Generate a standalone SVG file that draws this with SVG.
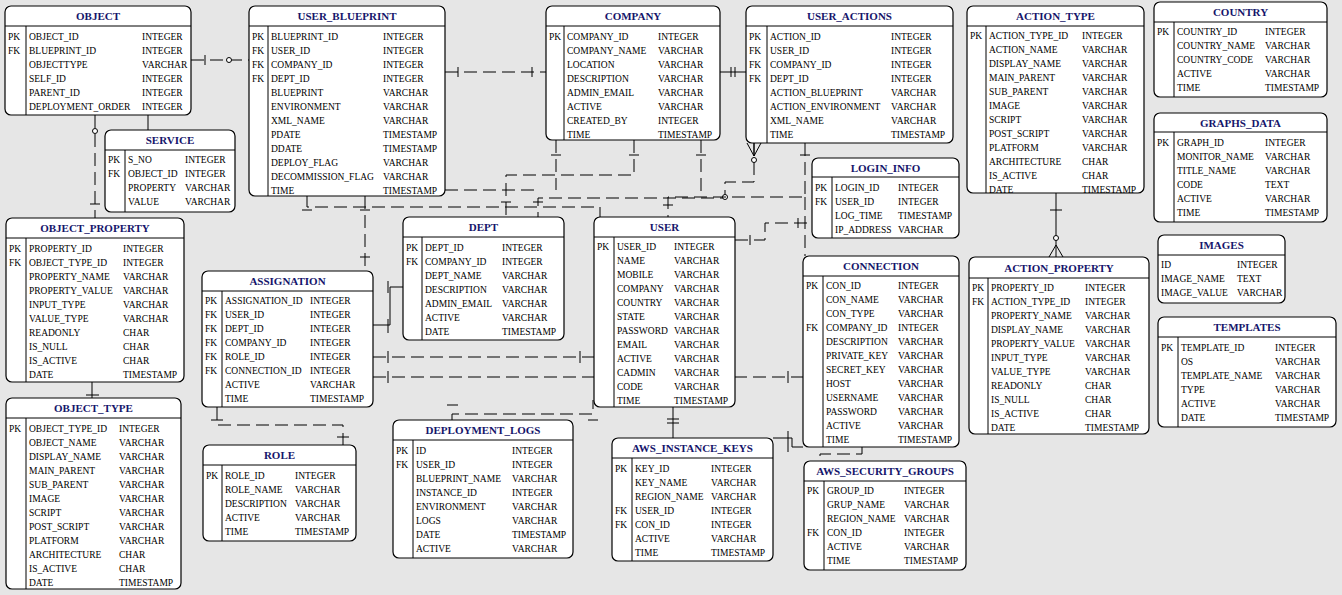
<svg xmlns="http://www.w3.org/2000/svg" width="1342" height="595" viewBox="0 0 1342 595">
<style>
.tb{fill:#fff;stroke:#000;stroke-width:1.2}
.ln{fill:none;stroke:#000;stroke-width:1}
.t{font:bold 11px "Liberation Serif",serif;fill:#15156b;text-anchor:middle}
.r{font:9.5px "Liberation Serif",serif;fill:#000}
.c{fill:none;stroke:#000;stroke-width:1}
.d{stroke-dasharray:13 6}
.o{fill:#fff;stroke:#000;stroke-width:1}
</style>
<rect width="1342" height="595" fill="#e6e6e6"/>
<g id="connectors">
<path class="c d" d="M191,60H249"/><path class="c" d="M205,55V65"/><circle class="o" cx="229" cy="60" r="2.5"/>
<path class="c" d="M148,115V130"/>
<path class="c d" d="M95,115V218"/><path class="c" d="M90,204H100"/><circle class="o" cx="95" cy="131" r="2.5"/>
<path class="c" d="M92,382V398M86,395H99"/>
<path class="c d" d="M445,72H546"/><path class="c" d="M458,67V77M532,67V77"/>
<path class="c" d="M720,72H746M731,67V77M735,67V77"/>
<path class="c" d="M1056,193V257M1050,210H1062M1049,257L1056,245L1063,257"/><circle class="o" cx="1056" cy="238" r="2.5"/>
<path class="c d" d="M754,143V182H725V198H538V217"/><path class="c" d="M747,143L754,156L761,143M754,143V156M533,202H543"/><circle class="o" cx="754" cy="160" r="2.5"/><circle class="o" cx="725" cy="197" r="2.5"/>
<path class="c d" d="M805,143V197H668V217"/><path class="c" d="M800,155H810M663,205H673"/>
<path class="c d" d="M805,197V256"/>
<path class="c d" d="M634,140V175H506V217"/><path class="c" d="M629,155H639M501,202H511"/>
<path class="c d" d="M556,140V190"/><path class="c" d="M551,155H561"/>
<path class="c d" d="M445,190H538"/>
<path class="c d" d="M701,140V197"/><path class="c" d="M696,155H706"/>
<path class="c d" d="M307,196V207H600V217"/><path class="c" d="M302,210H312"/>
<path class="c d" d="M365,196V271"/><path class="c" d="M360,210H370M360,257H370"/>
<path class="c d" d="M735,240H765V223H812"/><path class="c" d="M750,235V245M798,218V228"/>
<path class="c" d="M373,325H390V287H403M388,319V333M388,281V293"/>
<path class="c d" d="M373,357H594"/><path class="c" d="M388,351V363M580,351V363"/>
<path class="c d" d="M373,377H803"/><path class="c" d="M388,371V383M788,371V383"/>
<path class="c d" d="M217,407V425H343V445"/><path class="c" d="M211,420H223M337,437H349"/>
<path class="c d" d="M452,420V414H593V400"/><path class="c" d="M447,405H458M588,420H598"/>
<path class="c" d="M673,407V438M667,419H679M667,423H679"/>
<path class="c" d="M773,438H792V447H803M788,431V452"/>
<path class="c d" d="M862,447V454H820V461"/>
</g>
<g id="object"><rect class="tb" x="5" y="6" width="186" height="109" rx="6"/><path class="ln" d="M5,26H191M26,26V115"/><text class="t" x="98" y="20">OBJECT</text>
<text class="r"><tspan x="8" y="39.5">PK</tspan><tspan x="8" dy="14">FK</tspan></text>
<text class="r"><tspan x="29" y="39.5">OBJECT_ID</tspan><tspan x="29" dy="14">BLUEPRINT_ID</tspan><tspan x="29" dy="14">OBJECTTYPE</tspan><tspan x="29" dy="14">SELF_ID</tspan><tspan x="29" dy="14">PARENT_ID</tspan><tspan x="29" dy="14">DEPLOYMENT_ORDER</tspan></text>
<text class="r"><tspan x="142" y="39.5">INTEGER</tspan><tspan x="142" dy="14">INTEGER</tspan><tspan x="142" dy="14">VARCHAR</tspan><tspan x="142" dy="14">INTEGER</tspan><tspan x="142" dy="14">INTEGER</tspan><tspan x="142" dy="14">INTEGER</tspan></text></g>
<g id="user_blueprint"><rect class="tb" x="249" y="6" width="196" height="190" rx="6"/><path class="ln" d="M249,26H445M268,26V196"/><text class="t" x="347" y="20">USER_BLUEPRINT</text>
<text class="r"><tspan x="252" y="39.5">PK</tspan><tspan x="252" dy="14">FK</tspan><tspan x="252" dy="14">FK</tspan><tspan x="252" dy="14">FK</tspan></text>
<text class="r"><tspan x="271" y="39.5">BLUEPRINT_ID</tspan><tspan x="271" dy="14">USER_ID</tspan><tspan x="271" dy="14">COMPANY_ID</tspan><tspan x="271" dy="14">DEPT_ID</tspan><tspan x="271" dy="14">BLUEPRINT</tspan><tspan x="271" dy="14">ENVIRONMENT</tspan><tspan x="271" dy="14">XML_NAME</tspan><tspan x="271" dy="14">PDATE</tspan><tspan x="271" dy="14">DDATE</tspan><tspan x="271" dy="14">DEPLOY_FLAG</tspan><tspan x="271" dy="14">DECOMMISSION_FLAG</tspan><tspan x="271" dy="14">TIME</tspan></text>
<text class="r"><tspan x="383" y="39.5">INTEGER</tspan><tspan x="383" dy="14">INTEGER</tspan><tspan x="383" dy="14">INTEGER</tspan><tspan x="383" dy="14">INTEGER</tspan><tspan x="383" dy="14">VARCHAR</tspan><tspan x="383" dy="14">VARCHAR</tspan><tspan x="383" dy="14">VARCHAR</tspan><tspan x="383" dy="14">TIMESTAMP</tspan><tspan x="383" dy="14">TIMESTAMP</tspan><tspan x="383" dy="14">VARCHAR</tspan><tspan x="383" dy="14">VARCHAR</tspan><tspan x="383" dy="14">TIMESTAMP</tspan></text></g>
<g id="company"><rect class="tb" x="546" y="6" width="174" height="134" rx="6"/><path class="ln" d="M546,26H720M564,26V140"/><text class="t" x="633" y="20">COMPANY</text>
<text class="r"><tspan x="549" y="39.5">PK</tspan></text>
<text class="r"><tspan x="567" y="39.5">COMPANY_ID</tspan><tspan x="567" dy="14">COMPANY_NAME</tspan><tspan x="567" dy="14">LOCATION</tspan><tspan x="567" dy="14">DESCRIPTION</tspan><tspan x="567" dy="14">ADMIN_EMAIL</tspan><tspan x="567" dy="14">ACTIVE</tspan><tspan x="567" dy="14">CREATED_BY</tspan><tspan x="567" dy="14">TIME</tspan></text>
<text class="r"><tspan x="658" y="39.5">INTEGER</tspan><tspan x="658" dy="14">VARCHAR</tspan><tspan x="658" dy="14">VARCHAR</tspan><tspan x="658" dy="14">VARCHAR</tspan><tspan x="658" dy="14">VARCHAR</tspan><tspan x="658" dy="14">VARCHAR</tspan><tspan x="658" dy="14">INTEGER</tspan><tspan x="658" dy="14">TIMESTAMP</tspan></text></g>
<g id="user_actions"><rect class="tb" x="746" y="6" width="207" height="137" rx="6"/><path class="ln" d="M746,26H953M767,26V143"/><text class="t" x="849.5" y="20">USER_ACTIONS</text>
<text class="r"><tspan x="749" y="39.5">PK</tspan><tspan x="749" dy="14">FK</tspan><tspan x="749" dy="14">FK</tspan><tspan x="749" dy="14">FK</tspan></text>
<text class="r"><tspan x="770" y="39.5">ACTION_ID</tspan><tspan x="770" dy="14">USER_ID</tspan><tspan x="770" dy="14">COMPANY_ID</tspan><tspan x="770" dy="14">DEPT_ID</tspan><tspan x="770" dy="14">ACTION_BLUEPRINT</tspan><tspan x="770" dy="14">ACTION_ENVIRONMENT</tspan><tspan x="770" dy="14">XML_NAME</tspan><tspan x="770" dy="14">TIME</tspan></text>
<text class="r"><tspan x="891" y="39.5">INTEGER</tspan><tspan x="891" dy="14">INTEGER</tspan><tspan x="891" dy="14">INTEGER</tspan><tspan x="891" dy="14">INTEGER</tspan><tspan x="891" dy="14">VARCHAR</tspan><tspan x="891" dy="14">VARCHAR</tspan><tspan x="891" dy="14">VARCHAR</tspan><tspan x="891" dy="14">TIMESTAMP</tspan></text></g>
<g id="action_type"><rect class="tb" x="967" y="6" width="177" height="187" rx="6"/><path class="ln" d="M967,26H1144M986,26V193"/><text class="t" x="1055.5" y="20">ACTION_TYPE</text>
<text class="r"><tspan x="970" y="39">PK</tspan></text>
<text class="r"><tspan x="989" y="39">ACTION_TYPE_ID</tspan><tspan x="989" dy="14">ACTION_NAME</tspan><tspan x="989" dy="14">DISPLAY_NAME</tspan><tspan x="989" dy="14">MAIN_PARENT</tspan><tspan x="989" dy="14">SUB_PARENT</tspan><tspan x="989" dy="14">IMAGE</tspan><tspan x="989" dy="14">SCRIPT</tspan><tspan x="989" dy="14">POST_SCRIPT</tspan><tspan x="989" dy="14">PLATFORM</tspan><tspan x="989" dy="14">ARCHITECTURE</tspan><tspan x="989" dy="14">IS_ACTIVE</tspan><tspan x="989" dy="14">DATE</tspan></text>
<text class="r"><tspan x="1082" y="39">INTEGER</tspan><tspan x="1082" dy="14">VARCHAR</tspan><tspan x="1082" dy="14">VARCHAR</tspan><tspan x="1082" dy="14">VARCHAR</tspan><tspan x="1082" dy="14">VARCHAR</tspan><tspan x="1082" dy="14">VARCHAR</tspan><tspan x="1082" dy="14">VARCHAR</tspan><tspan x="1082" dy="14">VARCHAR</tspan><tspan x="1082" dy="14">VARCHAR</tspan><tspan x="1082" dy="14">CHAR</tspan><tspan x="1082" dy="14">CHAR</tspan><tspan x="1082" dy="14">TIMESTAMP</tspan></text></g>
<g id="country"><rect class="tb" x="1154" y="2" width="173" height="95" rx="6"/><path class="ln" d="M1154,22H1327M1174,22V97"/><text class="t" x="1240.5" y="16">COUNTRY</text>
<text class="r"><tspan x="1157" y="34.5">PK</tspan></text>
<text class="r"><tspan x="1177" y="34.5">COUNTRY_ID</tspan><tspan x="1177" dy="14">COUNTRY_NAME</tspan><tspan x="1177" dy="14">COUNTRY_CODE</tspan><tspan x="1177" dy="14">ACTIVE</tspan><tspan x="1177" dy="14">TIME</tspan></text>
<text class="r"><tspan x="1265" y="34.5">INTEGER</tspan><tspan x="1265" dy="14">VARCHAR</tspan><tspan x="1265" dy="14">VARCHAR</tspan><tspan x="1265" dy="14">VARCHAR</tspan><tspan x="1265" dy="14">TIMESTAMP</tspan></text></g>
<g id="graphs_data"><rect class="tb" x="1154" y="113" width="173" height="109" rx="6"/><path class="ln" d="M1154,132H1327M1174,132V222"/><text class="t" x="1240.5" y="127">GRAPHS_DATA</text>
<text class="r"><tspan x="1157" y="145.5">PK</tspan></text>
<text class="r"><tspan x="1177" y="145.5">GRAPH_ID</tspan><tspan x="1177" dy="14">MONITOR_NAME</tspan><tspan x="1177" dy="14">TITLE_NAME</tspan><tspan x="1177" dy="14">CODE</tspan><tspan x="1177" dy="14">ACTIVE</tspan><tspan x="1177" dy="14">TIME</tspan></text>
<text class="r"><tspan x="1265" y="145.5">INTEGER</tspan><tspan x="1265" dy="14">VARCHAR</tspan><tspan x="1265" dy="14">VARCHAR</tspan><tspan x="1265" dy="14">TEXT</tspan><tspan x="1265" dy="14">VARCHAR</tspan><tspan x="1265" dy="14">TIMESTAMP</tspan></text></g>
<g id="images"><rect class="tb" x="1158" y="235" width="127" height="68" rx="6"/><path class="ln" d="M1158,255H1285"/><text class="t" x="1221.5" y="249">IMAGES</text>
<text class="r"><tspan x="1161" y="267.5">ID</tspan><tspan x="1161" dy="14">IMAGE_NAME</tspan><tspan x="1161" dy="14">IMAGE_VALUE</tspan></text>
<text class="r"><tspan x="1237" y="267.5">INTEGER</tspan><tspan x="1237" dy="14">TEXT</tspan><tspan x="1237" dy="14">VARCHAR</tspan></text></g>
<g id="templates"><rect class="tb" x="1158" y="317" width="178" height="110" rx="6"/><path class="ln" d="M1158,337H1336M1178,337V427"/><text class="t" x="1247" y="331">TEMPLATES</text>
<text class="r"><tspan x="1161" y="350.5">PK</tspan></text>
<text class="r"><tspan x="1181" y="350.5">TEMPLATE_ID</tspan><tspan x="1181" dy="14">OS</tspan><tspan x="1181" dy="14">TEMPLATE_NAME</tspan><tspan x="1181" dy="14">TYPE</tspan><tspan x="1181" dy="14">ACTIVE</tspan><tspan x="1181" dy="14">DATE</tspan></text>
<text class="r"><tspan x="1275" y="350.5">INTEGER</tspan><tspan x="1275" dy="14">VARCHAR</tspan><tspan x="1275" dy="14">VARCHAR</tspan><tspan x="1275" dy="14">VARCHAR</tspan><tspan x="1275" dy="14">VARCHAR</tspan><tspan x="1275" dy="14">TIMESTAMP</tspan></text></g>
<g id="action_property"><rect class="tb" x="969" y="257" width="180" height="177" rx="6"/><path class="ln" d="M969,278H1149M988,278V434"/><text class="t" x="1059" y="272">ACTION_PROPERTY</text>
<text class="r"><tspan x="972" y="290.5">PK</tspan><tspan x="972" dy="14">FK</tspan></text>
<text class="r"><tspan x="991" y="290.5">PROPERTY_ID</tspan><tspan x="991" dy="14">ACTION_TYPE_ID</tspan><tspan x="991" dy="14">PROPERTY_NAME</tspan><tspan x="991" dy="14">DISPLAY_NAME</tspan><tspan x="991" dy="14">PROPERTY_VALUE</tspan><tspan x="991" dy="14">INPUT_TYPE</tspan><tspan x="991" dy="14">VALUE_TYPE</tspan><tspan x="991" dy="14">READONLY</tspan><tspan x="991" dy="14">IS_NULL</tspan><tspan x="991" dy="14">IS_ACTIVE</tspan><tspan x="991" dy="14">DATE</tspan></text>
<text class="r"><tspan x="1085" y="290.5">INTEGER</tspan><tspan x="1085" dy="14">INTEGER</tspan><tspan x="1085" dy="14">VARCHAR</tspan><tspan x="1085" dy="14">VARCHAR</tspan><tspan x="1085" dy="14">VARCHAR</tspan><tspan x="1085" dy="14">VARCHAR</tspan><tspan x="1085" dy="14">VARCHAR</tspan><tspan x="1085" dy="14">CHAR</tspan><tspan x="1085" dy="14">CHAR</tspan><tspan x="1085" dy="14">CHAR</tspan><tspan x="1085" dy="14">TIMESTAMP</tspan></text></g>
<g id="login_info"><rect class="tb" x="812" y="158" width="147" height="80" rx="6"/><path class="ln" d="M812,177H959M832,177V238"/><text class="t" x="885.5" y="172">LOGIN_INFO</text>
<text class="r"><tspan x="815" y="190.5">PK</tspan><tspan x="815" dy="14">FK</tspan></text>
<text class="r"><tspan x="835" y="190.5">LOGIN_ID</tspan><tspan x="835" dy="14">USER_ID</tspan><tspan x="835" dy="14">LOG_TIME</tspan><tspan x="835" dy="14">IP_ADDRESS</tspan></text>
<text class="r"><tspan x="898" y="190.5">INTEGER</tspan><tspan x="898" dy="14">INTEGER</tspan><tspan x="898" dy="14">TIMESTAMP</tspan><tspan x="898" dy="14">VARCHAR</tspan></text></g>
<g id="connection"><rect class="tb" x="803" y="256" width="156" height="191" rx="6"/><path class="ln" d="M803,276H959M823,276V447"/><text class="t" x="881" y="270">CONNECTION</text>
<text class="r"><tspan x="806" y="288.5">PK</tspan><tspan x="806" y="330.5">FK</tspan></text>
<text class="r"><tspan x="826" y="288.5">CON_ID</tspan><tspan x="826" dy="14">CON_NAME</tspan><tspan x="826" dy="14">CON_TYPE</tspan><tspan x="826" dy="14">COMPANY_ID</tspan><tspan x="826" dy="14">DESCRIPTION</tspan><tspan x="826" dy="14">PRIVATE_KEY</tspan><tspan x="826" dy="14">SECRET_KEY</tspan><tspan x="826" dy="14">HOST</tspan><tspan x="826" dy="14">USERNAME</tspan><tspan x="826" dy="14">PASSWORD</tspan><tspan x="826" dy="14">ACTIVE</tspan><tspan x="826" dy="14">TIME</tspan></text>
<text class="r"><tspan x="898" y="288.5">INTEGER</tspan><tspan x="898" dy="14">VARCHAR</tspan><tspan x="898" dy="14">VARCHAR</tspan><tspan x="898" dy="14">INTEGER</tspan><tspan x="898" dy="14">VARCHAR</tspan><tspan x="898" dy="14">VARCHAR</tspan><tspan x="898" dy="14">VARCHAR</tspan><tspan x="898" dy="14">VARCHAR</tspan><tspan x="898" dy="14">VARCHAR</tspan><tspan x="898" dy="14">VARCHAR</tspan><tspan x="898" dy="14">VARCHAR</tspan><tspan x="898" dy="14">TIMESTAMP</tspan></text></g>
<g id="aws_security_groups"><rect class="tb" x="804" y="461" width="162" height="109" rx="6"/><path class="ln" d="M804,481H966M824,481V570"/><text class="t" x="885" y="475">AWS_SECURITY_GROUPS</text>
<text class="r"><tspan x="807" y="493.5">PK</tspan><tspan x="807" y="535.5">FK</tspan></text>
<text class="r"><tspan x="827" y="493.5">GROUP_ID</tspan><tspan x="827" dy="14">GRUP_NAME</tspan><tspan x="827" dy="14">REGION_NAME</tspan><tspan x="827" dy="14">CON_ID</tspan><tspan x="827" dy="14">ACTIVE</tspan><tspan x="827" dy="14">TIME</tspan></text>
<text class="r"><tspan x="904" y="493.5">INTEGER</tspan><tspan x="904" dy="14">VARCHAR</tspan><tspan x="904" dy="14">VARCHAR</tspan><tspan x="904" dy="14">INTEGER</tspan><tspan x="904" dy="14">VARCHAR</tspan><tspan x="904" dy="14">TIMESTAMP</tspan></text></g>
<g id="aws_instance_keys"><rect class="tb" x="612" y="438" width="161" height="123" rx="6"/><path class="ln" d="M612,458H773M632,458V561"/><text class="t" x="692.5" y="452">AWS_INSTANCE_KEYS</text>
<text class="r"><tspan x="615" y="471.5">PK</tspan><tspan x="615" y="513.5">FK</tspan><tspan x="615" dy="14">FK</tspan></text>
<text class="r"><tspan x="635" y="471.5">KEY_ID</tspan><tspan x="635" dy="14">KEY_NAME</tspan><tspan x="635" dy="14">REGION_NAME</tspan><tspan x="635" dy="14">USER_ID</tspan><tspan x="635" dy="14">CON_ID</tspan><tspan x="635" dy="14">ACTIVE</tspan><tspan x="635" dy="14">TIME</tspan></text>
<text class="r"><tspan x="711" y="471.5">INTEGER</tspan><tspan x="711" dy="14">VARCHAR</tspan><tspan x="711" dy="14">VARCHAR</tspan><tspan x="711" dy="14">INTEGER</tspan><tspan x="711" dy="14">INTEGER</tspan><tspan x="711" dy="14">VARCHAR</tspan><tspan x="711" dy="14">TIMESTAMP</tspan></text></g>
<g id="user"><rect class="tb" x="594" y="217" width="141" height="190" rx="6"/><path class="ln" d="M594,237H735M614,237V407"/><text class="t" x="664.5" y="231">USER</text>
<text class="r"><tspan x="597" y="249.5">PK</tspan></text>
<text class="r"><tspan x="617" y="249.5">USER_ID</tspan><tspan x="617" dy="14">NAME</tspan><tspan x="617" dy="14">MOBILE</tspan><tspan x="617" dy="14">COMPANY</tspan><tspan x="617" dy="14">COUNTRY</tspan><tspan x="617" dy="14">STATE</tspan><tspan x="617" dy="14">PASSWORD</tspan><tspan x="617" dy="14">EMAIL</tspan><tspan x="617" dy="14">ACTIVE</tspan><tspan x="617" dy="14">CADMIN</tspan><tspan x="617" dy="14">CODE</tspan><tspan x="617" dy="14">TIME</tspan></text>
<text class="r"><tspan x="674" y="249.5">INTEGER</tspan><tspan x="674" dy="14">VARCHAR</tspan><tspan x="674" dy="14">VARCHAR</tspan><tspan x="674" dy="14">VARCHAR</tspan><tspan x="674" dy="14">VARCHAR</tspan><tspan x="674" dy="14">VARCHAR</tspan><tspan x="674" dy="14">VARCHAR</tspan><tspan x="674" dy="14">VARCHAR</tspan><tspan x="674" dy="14">VARCHAR</tspan><tspan x="674" dy="14">VARCHAR</tspan><tspan x="674" dy="14">VARCHAR</tspan><tspan x="674" dy="14">TIMESTAMP</tspan></text></g>
<g id="dept"><rect class="tb" x="403" y="217" width="161" height="123" rx="6"/><path class="ln" d="M403,237H564M422,237V340"/><text class="t" x="483.5" y="231">DEPT</text>
<text class="r"><tspan x="406" y="250.5">PK</tspan><tspan x="406" dy="14">FK</tspan></text>
<text class="r"><tspan x="425" y="250.5">DEPT_ID</tspan><tspan x="425" dy="14">COMPANY_ID</tspan><tspan x="425" dy="14">DEPT_NAME</tspan><tspan x="425" dy="14">DESCRIPTION</tspan><tspan x="425" dy="14">ADMIN_EMAIL</tspan><tspan x="425" dy="14">ACTIVE</tspan><tspan x="425" dy="14">DATE</tspan></text>
<text class="r"><tspan x="502" y="250.5">INTEGER</tspan><tspan x="502" dy="14">INTEGER</tspan><tspan x="502" dy="14">VARCHAR</tspan><tspan x="502" dy="14">VARCHAR</tspan><tspan x="502" dy="14">VARCHAR</tspan><tspan x="502" dy="14">VARCHAR</tspan><tspan x="502" dy="14">TIMESTAMP</tspan></text></g>
<g id="assignation"><rect class="tb" x="202" y="271" width="171" height="136" rx="6"/><path class="ln" d="M202,291H373M222,291V407"/><text class="t" x="287.5" y="285">ASSIGNATION</text>
<text class="r"><tspan x="205" y="303.5">PK</tspan><tspan x="205" dy="14">FK</tspan><tspan x="205" dy="14">FK</tspan><tspan x="205" dy="14">FK</tspan><tspan x="205" dy="14">FK</tspan><tspan x="205" dy="14">FK</tspan></text>
<text class="r"><tspan x="225" y="303.5">ASSIGNATION_ID</tspan><tspan x="225" dy="14">USER_ID</tspan><tspan x="225" dy="14">DEPT_ID</tspan><tspan x="225" dy="14">COMPANY_ID</tspan><tspan x="225" dy="14">ROLE_ID</tspan><tspan x="225" dy="14">CONNECTION_ID</tspan><tspan x="225" dy="14">ACTIVE</tspan><tspan x="225" dy="14">TIME</tspan></text>
<text class="r"><tspan x="310" y="303.5">INTEGER</tspan><tspan x="310" dy="14">INTEGER</tspan><tspan x="310" dy="14">INTEGER</tspan><tspan x="310" dy="14">INTEGER</tspan><tspan x="310" dy="14">INTEGER</tspan><tspan x="310" dy="14">INTEGER</tspan><tspan x="310" dy="14">VARCHAR</tspan><tspan x="310" dy="14">TIMESTAMP</tspan></text></g>
<g id="object_property"><rect class="tb" x="6" y="218" width="178" height="164" rx="6"/><path class="ln" d="M6,238H184M26,238V382"/><text class="t" x="95" y="232">OBJECT_PROPERTY</text>
<text class="r"><tspan x="9" y="251.5">PK</tspan><tspan x="9" dy="14">FK</tspan></text>
<text class="r"><tspan x="29" y="251.5">PROPERTY_ID</tspan><tspan x="29" dy="14">OBJECT_TYPE_ID</tspan><tspan x="29" dy="14">PROPERTY_NAME</tspan><tspan x="29" dy="14">PROPERTY_VALUE</tspan><tspan x="29" dy="14">INPUT_TYPE</tspan><tspan x="29" dy="14">VALUE_TYPE</tspan><tspan x="29" dy="14">READONLY</tspan><tspan x="29" dy="14">IS_NULL</tspan><tspan x="29" dy="14">IS_ACTIVE</tspan><tspan x="29" dy="14">DATE</tspan></text>
<text class="r"><tspan x="123" y="251.5">INTEGER</tspan><tspan x="123" dy="14">INTEGER</tspan><tspan x="123" dy="14">VARCHAR</tspan><tspan x="123" dy="14">VARCHAR</tspan><tspan x="123" dy="14">VARCHAR</tspan><tspan x="123" dy="14">VARCHAR</tspan><tspan x="123" dy="14">CHAR</tspan><tspan x="123" dy="14">CHAR</tspan><tspan x="123" dy="14">CHAR</tspan><tspan x="123" dy="14">TIMESTAMP</tspan></text></g>
<g id="service"><rect class="tb" x="105" y="130" width="130" height="82" rx="6"/><path class="ln" d="M105,150H235M125,150V212"/><text class="t" x="170" y="144">SERVICE</text>
<text class="r"><tspan x="108" y="162.5">PK</tspan><tspan x="108" dy="14">FK</tspan></text>
<text class="r"><tspan x="128" y="162.5">S_NO</tspan><tspan x="128" dy="14">OBJECT_ID</tspan><tspan x="128" dy="14">PROPERTY</tspan><tspan x="128" dy="14">VALUE</tspan></text>
<text class="r"><tspan x="185" y="162.5">INTEGER</tspan><tspan x="185" dy="14">INTEGER</tspan><tspan x="185" dy="14">VARCHAR</tspan><tspan x="185" dy="14">VARCHAR</tspan></text></g>
<g id="object_type"><rect class="tb" x="6" y="398" width="175" height="191" rx="6"/><path class="ln" d="M6,418H181M26,418V589"/><text class="t" x="93.5" y="412">OBJECT_TYPE</text>
<text class="r"><tspan x="9" y="431.5">PK</tspan></text>
<text class="r"><tspan x="29" y="431.5">OBJECT_TYPE_ID</tspan><tspan x="29" dy="14">OBJECT_NAME</tspan><tspan x="29" dy="14">DISPLAY_NAME</tspan><tspan x="29" dy="14">MAIN_PARENT</tspan><tspan x="29" dy="14">SUB_PARENT</tspan><tspan x="29" dy="14">IMAGE</tspan><tspan x="29" dy="14">SCRIPT</tspan><tspan x="29" dy="14">POST_SCRIPT</tspan><tspan x="29" dy="14">PLATFORM</tspan><tspan x="29" dy="14">ARCHITECTURE</tspan><tspan x="29" dy="14">IS_ACTIVE</tspan><tspan x="29" dy="14">DATE</tspan></text>
<text class="r"><tspan x="119" y="431.5">INTEGER</tspan><tspan x="119" dy="14">VARCHAR</tspan><tspan x="119" dy="14">VARCHAR</tspan><tspan x="119" dy="14">VARCHAR</tspan><tspan x="119" dy="14">VARCHAR</tspan><tspan x="119" dy="14">VARCHAR</tspan><tspan x="119" dy="14">VARCHAR</tspan><tspan x="119" dy="14">VARCHAR</tspan><tspan x="119" dy="14">VARCHAR</tspan><tspan x="119" dy="14">CHAR</tspan><tspan x="119" dy="14">CHAR</tspan><tspan x="119" dy="14">TIMESTAMP</tspan></text></g>
<g id="role"><rect class="tb" x="203" y="445" width="153" height="96" rx="6"/><path class="ln" d="M203,465H356M222,465V541"/><text class="t" x="279.5" y="459">ROLE</text>
<text class="r"><tspan x="206" y="478.5">PK</tspan></text>
<text class="r"><tspan x="225" y="478.5">ROLE_ID</tspan><tspan x="225" dy="14">ROLE_NAME</tspan><tspan x="225" dy="14">DESCRIPTION</tspan><tspan x="225" dy="14">ACTIVE</tspan><tspan x="225" dy="14">TIME</tspan></text>
<text class="r"><tspan x="295" y="478.5">INTEGER</tspan><tspan x="295" dy="14">VARCHAR</tspan><tspan x="295" dy="14">VARCHAR</tspan><tspan x="295" dy="14">VARCHAR</tspan><tspan x="295" dy="14">TIMESTAMP</tspan></text></g>
<g id="deployment_logs"><rect class="tb" x="393" y="420" width="180" height="138" rx="6"/><path class="ln" d="M393,440H573M413,440V558"/><text class="t" x="483" y="434">DEPLOYMENT_LOGS</text>
<text class="r"><tspan x="396" y="453.5">PK</tspan><tspan x="396" dy="14">FK</tspan></text>
<text class="r"><tspan x="416" y="453.5">ID</tspan><tspan x="416" dy="14">USER_ID</tspan><tspan x="416" dy="14">BLUEPRINT_NAME</tspan><tspan x="416" dy="14">INSTANCE_ID</tspan><tspan x="416" dy="14">ENVIRONMENT</tspan><tspan x="416" dy="14">LOGS</tspan><tspan x="416" dy="14">DATE</tspan><tspan x="416" dy="14">ACTIVE</tspan></text>
<text class="r"><tspan x="512" y="453.5">INTEGER</tspan><tspan x="512" dy="14">INTEGER</tspan><tspan x="512" dy="14">VARCHAR</tspan><tspan x="512" dy="14">INTEGER</tspan><tspan x="512" dy="14">VARCHAR</tspan><tspan x="512" dy="14">VARCHAR</tspan><tspan x="512" dy="14">TIMESTAMP</tspan><tspan x="512" dy="14">VARCHAR</tspan></text></g>
</svg>
